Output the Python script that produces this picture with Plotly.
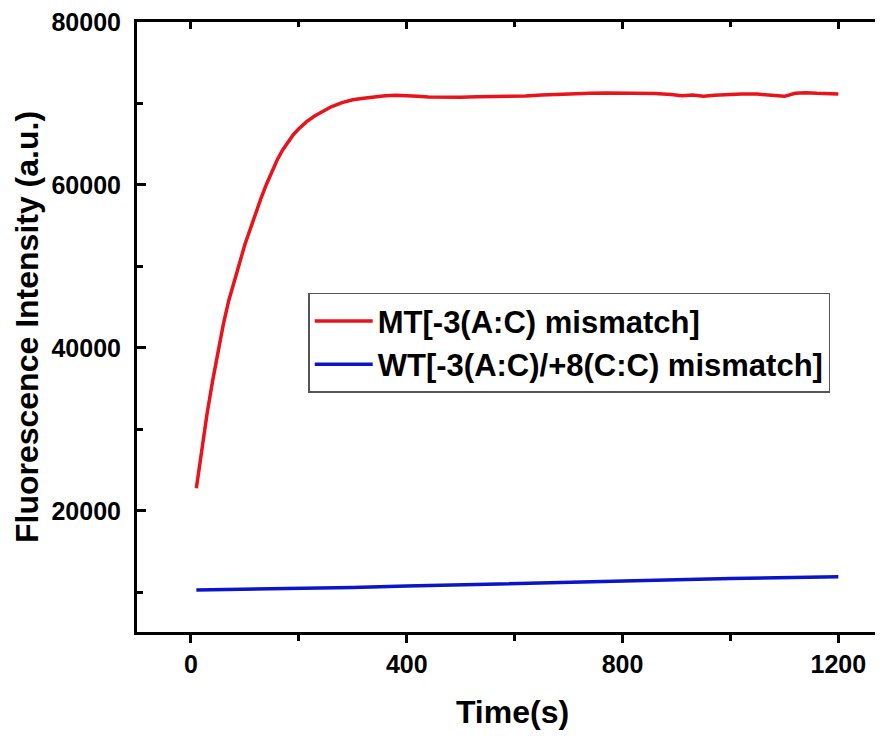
import plotly.graph_objects as go

# MT[-3(A:C) mismatch] series (time in s, fluorescence a.u.)
mt_time = [10, 20, 30, 40, 50, 60, 70, 80, 90, 100, 110, 120, 130, 140, 150, 160, 170, 180,
           190, 200, 215, 230, 245, 260, 280, 300, 320, 340, 360, 380, 400, 420, 440, 460,
           480, 500, 530, 560, 590, 620, 650, 680, 710, 740, 770, 800, 830, 860, 890, 910,
           930, 950, 970, 990, 1020, 1050, 1080, 1100, 1120, 1140, 1160, 1180, 1200]
mt_value = [22800, 27700, 32000, 35900, 39500, 42900, 45800, 48300, 50400, 52700, 54700, 56500,
            58400, 60100, 61700, 63100, 64300, 65300, 66200, 66900, 67800, 68500, 69100, 69600,
            70100, 70450, 70650, 70850, 70950, 71000, 70980, 70900, 70800, 70760, 70750, 70780,
            70820, 70850, 70880, 70920, 71050, 71150, 71200, 71250, 71280, 71250, 71270, 71220,
            71100, 70950, 71050, 70900, 71000, 71100, 71180, 71150, 71000, 70880, 71250, 71330,
            71250, 71200, 71170]

# WT[-3(A:C)/+8(C:C) mismatch] series
wt_time = [10, 100, 200, 300, 400, 500, 600, 700, 800, 900, 1000, 1100, 1200]
wt_value = [10300, 10380, 10500, 10620, 10780, 10950, 11150, 11300, 11420, 11560, 11700, 11800, 11920]

mt_name = "MT[-3(A:C) mismatch]"
wt_name = "WT[-3(A:C)/+8(C:C) mismatch]"

x_range = [-100, 1292]
y_range = [5150, 80000]

font_family = "Liberation Sans, Arial, sans-serif"

fig = go.Figure()
fig.add_trace(go.Scatter(x=mt_time, y=mt_value, mode="lines", name=mt_name,
                         line=dict(color="#e8131b", width=3.5)))
fig.add_trace(go.Scatter(x=wt_time, y=wt_value, mode="lines", name=wt_name,
                         line=dict(color="#0a14c8", width=3.5)))
# invisible trace to carry the top axis with inward ticks
fig.add_trace(go.Scatter(x=[None], y=[None], xaxis="x2", yaxis="y", showlegend=False,
                         hoverinfo="skip"))

fig.update_layout(
    width=883, height=736,
    margin=dict(l=129, r=0, t=14, b=112),
    paper_bgcolor="white", plot_bgcolor="white",
    showlegend=True,
    legend=dict(x=0.228, y=0.556, xanchor="left", yanchor="top",
                bgcolor="white", bordercolor="#555555", borderwidth=1.5,
                itemwidth=58,
                font=dict(family=font_family, size=31, color="black", weight="bold"),
                tracegroupgap=0),
    xaxis=dict(range=x_range, tickmode="linear", tick0=0, dtick=400,
               ticks="outside", ticklen=8, tickwidth=3, tickcolor="black",
               minor=dict(dtick=200, tick0=0, ticks="outside", ticklen=6, tickwidth=2.5,
                          tickcolor="black"),
               showline=True, linewidth=3, linecolor="black", mirror=True,
               showgrid=False, zeroline=False,
               tickfont=dict(family=font_family, size=25, color="black", weight="bold"),
               title=dict(text="Time(s)", standoff=24,
                          font=dict(family=font_family, size=32, color="black", weight="bold"))),
    xaxis2=dict(range=x_range, overlaying="x", side="top", tickmode="linear", tick0=0,
                dtick=400, ticks="inside", ticklen=7, tickwidth=3, tickcolor="black",
                minor=dict(dtick=200, tick0=0, ticks="inside", ticklen=5, tickwidth=2.5,
                           tickcolor="black"),
                showticklabels=False, showline=True, linewidth=3, linecolor="black",
                showgrid=False, zeroline=False),
    yaxis=dict(range=y_range, tickmode="linear", tick0=0, dtick=20000, tickformat="d",
               ticks="inside", ticklen=9, tickwidth=3, tickcolor="black",
               minor=dict(dtick=10000, tick0=0, ticks="inside", ticklen=6, tickwidth=2.5,
                          tickcolor="black"),
               showline=True, linewidth=3, linecolor="black", mirror=True,
               showgrid=False, zeroline=False, ticklabelstandoff=8,
               ticklabeloverflow="allow",
               tickfont=dict(family=font_family, size=25, color="black", weight="bold"),
               title=dict(text="Fluorescence Intensity (a.u.)", standoff=4,
                          font=dict(family=font_family, size=32, color="black", weight="bold"))),
)

fig.write_html("out.html")
